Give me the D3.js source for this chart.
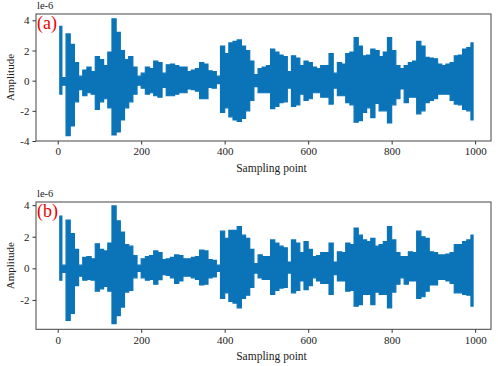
<!DOCTYPE html>
<html><head><meta charset="utf-8">
<script src="https://cdn.jsdelivr.net/npm/d3@7"></script>
<style>body{margin:0;background:#fff}svg{display:block}text{font-family:"Liberation Serif","Times New Roman",serif}</style>
</head><body><svg id="c" width="498" height="366"></svg>
<script>
// Envelope of each signal, one pair (upper, lower) per block of 10 sampling points (×1e-6)
const upperA = [3.6,0.2,3.1,2.4,1.2,0.3,0.7,0.9,0.6,1.6,1.4,1.0,1.9,4.1,3.2,2.0,1.4,1.6,0.9,0.3,
0.5,0.9,0.8,1.3,1.2,0.5,1.05,1.1,1.0,0.9,0.9,0.6,0.7,0.8,1.2,1.1,0.65,0.6,0.3,2.3,
1.8,2.5,2.6,2.7,2.3,2.0,1.3,0.4,0.8,0.9,1.0,2.1,1.9,1.7,1.6,0.6,1.65,1.5,1.0,1.3,
1.2,0.9,0.8,1.0,1.0,1.8,0.5,1.2,1.1,1.8,1.9,2.85,2.3,1.65,1.7,2.1,2.0,1.6,1.9,2.85,
2.0,1.0,0.8,1.0,1.2,1.3,2.6,2.3,1.55,1.5,1.45,1.1,1.0,1.1,1.2,1.65,1.7,2.1,2.2,2.5];
const lowerA = [-0.9,-0.3,-3.65,-3.0,-1.4,-0.6,-1.0,-0.8,-0.9,-1.9,-1.4,-1.2,-1.8,-3.6,-3.4,-2.6,-1.8,-1.4,-0.9,-0.3,
-0.5,-0.9,-0.8,-1.0,-1.1,-0.45,-1.0,-1.0,-0.9,-0.8,-0.8,-0.55,-0.6,-0.7,-1.2,-1.2,-0.45,-0.5,-0.2,-2.1,
-1.8,-2.4,-2.6,-2.7,-2.5,-2.0,-1.3,-0.4,-0.8,-0.8,-0.8,-1.85,-1.7,-1.45,-1.4,-0.5,-1.7,-1.6,-0.9,-1.3,
-1.2,-0.8,-0.8,-1.1,-1.1,-1.55,-0.5,-1.0,-1.0,-1.45,-1.6,-2.75,-2.65,-2.1,-1.8,-2.45,-1.5,-2.0,-2.0,-2.8,
-1.6,-1.2,-0.55,-1.45,-1.1,-1.1,-2.2,-2.0,-1.45,-1.3,-1.2,-0.9,-0.9,-0.9,-1.3,-1.55,-1.6,-1.9,-2.0,-2.6];
const upperB = [3.3,0.2,3.05,2.2,1.2,0.2,0.7,0.75,0.6,1.55,1.2,1.1,1.6,3.95,3.0,2.3,1.5,1.4,0.8,0.2,
0.6,0.75,0.8,1.1,1.0,0.55,0.6,0.7,0.85,0.8,0.6,0.6,0.7,0.75,1.15,1.1,0.55,0.5,0.2,2.35,
1.9,2.4,2.4,2.65,2.1,1.9,1.2,0.3,0.85,0.75,0.75,1.8,1.6,1.4,1.3,0.4,1.8,1.6,1.0,1.7,
1.2,0.75,0.8,1.0,1.0,1.6,0.4,1.05,1.0,1.6,1.5,2.55,2.1,1.8,1.7,1.9,1.4,1.5,1.7,2.65,
1.8,1.0,0.75,0.75,1.05,1.0,2.35,2.0,1.9,1.05,1.0,0.85,0.85,0.9,1.0,1.5,1.5,1.7,1.8,2.1];
const lowerB = [-0.75,-0.25,-3.3,-2.85,-1.1,-0.5,-0.75,-0.7,-0.75,-1.45,-1.3,-1.15,-1.45,-3.5,-3.0,-2.45,-1.5,-1.4,-0.6,-0.2,
-0.6,-0.75,-0.7,-1.0,-0.72,-0.4,-0.45,-0.6,-0.95,-0.8,-0.5,-0.5,-0.6,-0.7,-1.05,-1.0,-0.6,-0.55,-0.2,-1.9,
-1.55,-2.1,-2.2,-2.5,-1.9,-1.7,-1.2,-0.3,-0.6,-0.7,-0.7,-1.65,-1.4,-1.25,-1.2,-0.3,-1.55,-1.4,-0.8,-1.35,
-1.1,-0.6,-0.8,-0.95,-0.95,-1.65,-0.4,-0.8,-0.8,-1.45,-1.4,-2.4,-2.3,-1.65,-1.65,-2.3,-1.5,-1.65,-1.65,-2.5,
-1.5,-1.0,-0.6,-1.0,-0.8,-0.8,-1.9,-1.8,-1.45,-1.05,-1.05,-0.7,-0.7,-0.8,-0.95,-1.55,-1.55,-1.65,-1.7,-2.4];
const xTicks = [0,200,400,600,800,1000];
const yTicksA = [-4,-2,0,2,4];
const yTicksB = [-2,0,2,4];
const panelLabels = ["(a)","(b)"];
const xLabel = "Sampling point";
const yLabel = "Amplitude";
const expLabel = "le-6";

const svg = d3.select("#c");
const color = "#0b74b8";

function panel(up, lo, yDom, yTicks, top, bottom, label){
  const left = 36, right = 491;
  const x = d3.scaleLinear().domain([-52,1038]).range([left,right]);
  const y = d3.scaleLinear().domain(yDom).range([bottom, top]);
  const g = svg.append("g");
  const pts = up.map((u,i)=>({s:i*10+5, u:u, l:lo[i]}));
  g.append("path").datum(pts)
    .attr("d", d3.area().curve(d3.curveStep).x(d=>x(d.s)).y0(d=>y(d.l)).y1(d=>y(d.u)))
    .attr("fill",color).attr("stroke",color).attr("stroke-width",1.2).attr("stroke-linejoin","miter");
  const xa = g.append("g").attr("transform",`translate(0,${bottom})`)
    .call(d3.axisBottom(x).tickValues(xTicks).tickSize(3.5).tickPadding(3).tickFormat(d3.format("d")));
  const ya = g.append("g").attr("transform",`translate(${left},0)`)
    .call(d3.axisLeft(y).tickValues(yTicks).tickSize(3.5).tickPadding(3).tickFormat(d=>d));
  [xa,ya].forEach(a=>{
    a.select(".domain").remove();
    a.selectAll("line").attr("stroke","#333");
    a.selectAll("text").attr("font-size",11).attr("fill","#222")
      .style("font-family",'"Liberation Serif",serif');
  });
  g.append("rect").attr("x",left).attr("y",top).attr("width",right-left).attr("height",bottom-top)
    .attr("fill","none").attr("stroke","#444").attr("stroke-width",1);
  g.append("text").attr("x",left+1).attr("y",top-5).attr("font-size",10.5).attr("fill","#222").text(expLabel);
  g.append("text").attr("x",left+1).attr("y",top+15).attr("font-size",18).attr("fill","#e00").text(label);
  g.append("text").attr("x",(left+right)/2+8).attr("y",bottom+31).attr("text-anchor","middle")
    .attr("font-size",11.5).attr("fill","#222").text(xLabel);
  g.append("text").attr("transform",`translate(14,${(top+bottom)/2}) rotate(-90)`).attr("text-anchor","middle")
    .attr("font-size",11).attr("fill","#222").text(yLabel);
}
panel(upperA, lowerA, [-4.0,4.42], yTicksA, 14, 141, panelLabels[0]);
panel(upperB, lowerB, [-3.86,4.2], yTicksB, 202, 329.3, panelLabels[1]);
</script></body></html>
